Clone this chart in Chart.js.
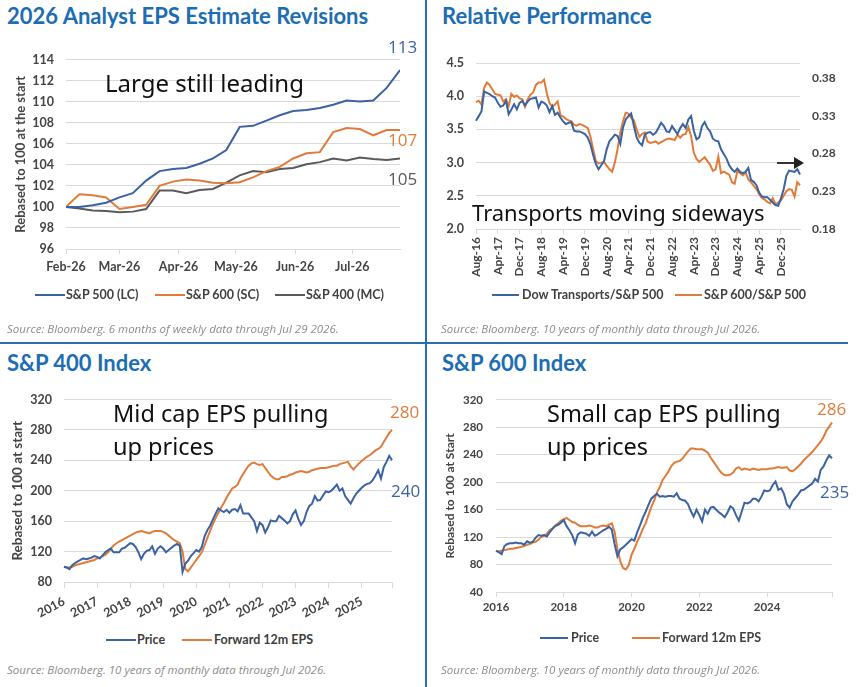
<!DOCTYPE html>
<html>
<head>
<meta charset="utf-8">
<script src="https://cdn.jsdelivr.net/npm/chart.js@4.4.1/dist/chart.umd.min.js"></script>
<style>
  body { margin: 0; width: 860px; height: 687px; position: relative; background: #fff; overflow: hidden; font-family: Lato, sans-serif; }
  .abs { position: absolute; white-space: nowrap; }
  .title { font-family: Lato, sans-serif; font-weight: 700; font-size: 22px; line-height: 26px; color: #1c6db3; }
  .src { font-family: "Open Sans", sans-serif; font-style: italic; font-size: 11.5px; line-height: 14px; color: #8c8c8c; }
  .note { font-family: "Noto Sans", sans-serif; font-size: 23.5px; line-height: 32px; color: #111; }
  .lg { font-size: 12.5px; line-height: 16px; color: #404040; font-weight: 700; }
  .sw { position: absolute; height: 2px; }
  .end { font-family: "Open Sans", sans-serif; font-size: 17px; line-height: 20px; }
  .box { position: absolute; }
  .vline { position: absolute; left: 425px; top: 0; width: 2px; height: 687px; background: #2a6db0; }
  .hline { position: absolute; left: 0; top: 342px; width: 848px; height: 2px; background: #2a6db0; }
</style>
</head>
<body>
<div class="vline"></div>
<div class="hline"></div>

<!-- Panel 1 -->
<div class="abs title" style="left:7px;top:3px">2026 Analyst EPS Estimate Revisions</div>
<div class="box" style="left:0;top:40px"><canvas id="epsChart" width="420" height="250"></canvas></div>
<div class="abs note" style="left:105px;top:67px;font-size:24px">Large still leading</div>
<div class="abs end" style="left:388px;top:37px;color:#3b62a3">113</div>
<div class="abs end" style="left:388px;top:130px;color:#e07b39">107</div>
<div class="abs end" style="left:388px;top:169px;color:#5a5a5a">105</div>
<div class="sw" style="left:35px;top:294px;width:30px;background:#3b62a3"></div>
<div class="abs lg" style="left:66px;top:287px">S&amp;P 500 (LC)</div>
<div class="sw" style="left:155px;top:294px;width:30px;background:#e07b39"></div>
<div class="abs lg" style="left:186px;top:287px">S&amp;P 600 (SC)</div>
<div class="sw" style="left:275px;top:294px;width:30px;background:#5a5a5a"></div>
<div class="abs lg" style="left:306px;top:287px">S&amp;P 400 (MC)</div>
<div class="abs src" style="left:7px;top:322px">Source: Bloomberg. 6 months of weekly data through Jul 29 2026.</div>

<!-- Panel 2 -->
<div class="abs title" style="left:442px;top:3px">Relative Performance</div>
<div class="box" style="left:430px;top:40px"><canvas id="relChart" width="420" height="240"></canvas></div>
<div class="abs note" style="left:472px;top:196px;font-size:22px">Transports moving sideways</div>
<svg class="abs" style="left:775px;top:156px" width="32" height="14">
  <line x1="2" y1="7" x2="20" y2="7" stroke="#333" stroke-width="2"/>
  <polygon points="19,1 29,7 19,13" fill="#222"/>
</svg>
<div class="sw" style="left:492px;top:294px;width:27px;background:#3b62a3"></div>
<div class="abs lg" style="left:522px;top:287px">Dow Transports/S&amp;P 500</div>
<div class="sw" style="left:675px;top:294px;width:27px;background:#e07b39"></div>
<div class="abs lg" style="left:704px;top:287px">S&amp;P 600/S&amp;P 500</div>
<div class="abs src" style="left:441px;top:322px">Source: Bloomberg. 10 years of monthly data through Jul 2026.</div>

<!-- Panel 3 -->
<div class="abs title" style="left:7px;top:350px">S&amp;P 400 Index</div>
<div class="box" style="left:0;top:380px"><canvas id="midChart" width="420" height="240"></canvas></div>
<div class="abs note" style="left:113px;top:397px">Mid cap EPS pulling</div>
<div class="abs note" style="left:113px;top:430px">up prices</div>
<div class="abs end" style="left:390px;top:402px;color:#e07b39">280</div>
<div class="abs end" style="left:391px;top:481px;color:#3b62a3">240</div>
<div class="sw" style="left:106px;top:639px;width:30px;background:#3b62a3"></div>
<div class="abs lg" style="left:137px;top:632px">Price</div>
<div class="sw" style="left:182px;top:639px;width:30px;background:#e07b39"></div>
<div class="abs lg" style="left:214px;top:632px">Forward 12m EPS</div>
<div class="abs src" style="left:7px;top:663px">Source: Bloomberg. 10 years of monthly data through Jul 2026.</div>

<!-- Panel 4 -->
<div class="abs title" style="left:442px;top:350px">S&amp;P 600 Index</div>
<div class="box" style="left:430px;top:380px"><canvas id="smallChart" width="420" height="240"></canvas></div>
<div class="abs note" style="left:547px;top:397px">Small cap EPS pulling</div>
<div class="abs note" style="left:547px;top:430px">up prices</div>
<div class="abs end" style="left:817px;top:399px;color:#e07b39">286</div>
<div class="abs end" style="left:820px;top:482px;color:#3b62a3">235</div>
<div class="sw" style="left:540px;top:637px;width:28px;background:#3b62a3"></div>
<div class="abs lg" style="left:571px;top:630px">Price</div>
<div class="sw" style="left:632px;top:637px;width:28px;background:#e07b39"></div>
<div class="abs lg" style="left:662px;top:630px">Forward 12m EPS</div>
<div class="abs src" style="left:441px;top:663px">Source: Bloomberg. 10 years of monthly data through Jul 2026.</div>

<script>
// Panel 1: weekly EPS revisions (days since Feb 1)
const epsWeekDays = [0, 7, 14, 21, 28, 35, 42, 49, 56, 63, 70, 77, 84, 91, 98, 105, 112, 119, 126, 133, 140, 147, 154, 161, 168, 175];
const epsTickDays = [0, 28, 59, 89, 120, 150];
const epsTickLabels = ["Feb-26", "Mar-26", "Apr-26", "May-26", "Jun-26", "Jul-26"];
const sp500Eps = [100, 100.0, 100.15, 100.4, 100.9, 101.3, 102.5, 103.4, 103.6, 103.7, 104.1, 104.6, 105.4, 107.6, 107.7, 108.2, 108.7, 109.1, 109.2, 109.4, 109.7, 110.1, 110.0, 110.1, 111.3, 113.0];
const sp600Eps = [100, 101.2, 101.1, 100.9, 99.8, 100.0, 100.2, 102.0, 102.4, 102.6, 102.5, 102.3, 102.25, 102.35, 102.8, 103.4, 103.8, 104.6, 105.1, 105.2, 107.1, 107.5, 107.4, 106.8, 107.3, 107.3];
const sp400Eps = [100, 99.85, 99.65, 99.6, 99.5, 99.55, 99.8, 101.55, 101.55, 101.3, 101.6, 101.7, 102.3, 103.0, 103.4, 103.3, 103.6, 103.7, 104.05, 104.25, 104.6, 104.4, 104.7, 104.55, 104.45, 104.6];

// Panel 2: relative performance, monthly Aug-16 .. Jul-26
const transportsRel = [3.63, 3.70, 3.77, 4.07, 4.05, 4.03, 4.00, 3.98, 3.90, 3.84, 3.86, 3.93, 3.73, 3.80, 3.88, 3.80, 3.90, 3.93, 3.86, 3.92,
  3.96, 3.97, 3.98, 3.83, 3.92, 3.90, 3.86, 3.76, 3.85, 3.72, 3.75, 3.68, 3.62, 3.58, 3.60, 3.61, 3.48, 3.47, 3.47, 3.45,
  3.43, 3.38, 3.28, 3.12, 2.98, 2.90, 2.96, 3.02, 3.20, 3.32, 3.37, 3.42, 3.40, 3.28, 3.53, 3.65, 3.70, 3.74, 3.55, 3.38,
  3.30, 3.26, 3.42, 3.45, 3.46, 3.42, 3.45, 3.52, 3.60, 3.55, 3.47, 3.46, 3.55, 3.49, 3.43, 3.52, 3.58, 3.52, 3.65, 3.70,
  3.48, 3.35, 3.38, 3.55, 3.61, 3.52, 3.47, 3.36, 3.33, 3.32, 3.20, 3.13, 3.06, 2.96, 2.90, 2.86, 2.91, 2.86, 2.84, 2.86,
  2.92, 2.74, 2.71, 2.66, 2.55, 2.49, 2.48, 2.48, 2.44, 2.40, 2.36, 2.35, 2.46, 2.60, 2.80, 2.88, 2.87, 2.86, 2.90, 2.82];
const smallRel = [0.348, 0.350, 0.345, 0.367, 0.374, 0.371, 0.365, 0.359, 0.358, 0.357, 0.349, 0.352, 0.343, 0.359, 0.355, 0.357, 0.353, 0.352, 0.342, 0.352,
  0.358, 0.361, 0.371, 0.374, 0.374, 0.378, 0.360, 0.347, 0.342, 0.345, 0.349, 0.331, 0.329, 0.326, 0.324, 0.323, 0.318, 0.317, 0.319, 0.318,
  0.316, 0.314, 0.303, 0.286, 0.270, 0.267, 0.268, 0.269, 0.264, 0.259, 0.256, 0.268, 0.286, 0.308, 0.323, 0.334, 0.333, 0.327, 0.324, 0.312,
  0.302, 0.306, 0.308, 0.296, 0.294, 0.295, 0.296, 0.293, 0.295, 0.297, 0.299, 0.300, 0.299, 0.298, 0.305, 0.301, 0.305, 0.306, 0.315, 0.303,
  0.281, 0.273, 0.269, 0.272, 0.275, 0.270, 0.265, 0.257, 0.259, 0.276, 0.254, 0.256, 0.254, 0.252, 0.242, 0.240, 0.257, 0.254, 0.251, 0.255,
  0.246, 0.242, 0.237, 0.233, 0.226, 0.221, 0.219, 0.216, 0.214, 0.221, 0.213, 0.215, 0.218, 0.224, 0.230, 0.233, 0.232, 0.223, 0.242, 0.238];
const relRightTicks = [0.18, 0.23, 0.28, 0.33, 0.38];

// Panel 3: S&P 400, monthly
const midYearLabels = ["2016", "2017", "2018", "2019", "2020", "2021", "2022", "2023", "2024", "2025"];
const midPrice = [100, 99, 97, 102, 105, 107, 109, 111, 110, 111, 112, 114, 113, 111, 115, 119, 122, 124, 119, 119,
  119, 124, 125, 128, 131, 130, 126, 119, 110, 117, 121, 122, 127, 117, 124, 127, 124, 119, 122, 125,
  128, 130, 128, 93, 104, 108, 114, 118, 122, 120, 126, 140, 148, 154, 162, 170, 177, 174, 172, 175,
  171, 175, 176, 173, 181, 170, 170, 170, 165, 160, 147, 158, 155, 145, 152, 161, 160, 160, 167, 164,
  161, 157, 160, 169, 174, 163, 155, 160, 172, 180, 183, 193, 187, 188, 194, 199, 198, 200, 204, 208,
  200, 203, 193, 188, 183, 190, 196, 200, 204, 207, 209, 210, 214, 220, 227, 216, 231, 238, 246, 240];
const midEps = [100, 99, 99, 100, 102, 103, 104, 105, 106, 107, 108, 109, 111, 112, 114, 116, 119, 124, 128, 131,
  133, 135, 137, 139, 141, 143, 145, 146, 147, 146, 145, 144, 146, 147, 147, 147, 146, 144, 141, 138,
  135, 133, 131, 120, 97, 94, 99, 104, 109, 114, 119, 128, 138, 147, 156, 164, 171, 178, 184, 191,
  197, 203, 205, 208, 216, 222, 228, 233, 236, 237, 235, 234, 235, 230, 225, 220, 217, 215, 215, 218,
  218, 219, 221, 222, 224, 225, 226, 225, 224, 225, 227, 228, 229, 230, 230, 230, 231, 232, 233, 233,
  235, 236, 237, 238, 232, 228, 232, 236, 239, 242, 245, 247, 250, 253, 255, 258, 264, 270, 276, 280];

// Panel 4: S&P 600, monthly
const smallYearLabels = ["2016", "2018", "2020", "2022", "2024"];
const smallPrice = [100, 98, 95, 107, 110, 111, 111, 112, 111, 111, 109, 114, 112, 113, 119, 123, 122, 123, 121, 127,
  132, 136, 138, 141, 145, 136, 130, 123, 111, 124, 127, 126, 125, 122, 128, 122, 124, 127, 130, 132,
  135, 131, 110, 92, 102, 105, 109, 113, 117, 115, 127, 137, 148, 157, 167, 176, 180, 183, 179, 180,
  179, 180, 180, 179, 184, 176, 174, 173, 168, 158, 150, 160, 152, 143, 160, 154, 163, 164, 160, 156,
  153, 149, 156, 165, 162, 152, 144, 157, 170, 169, 171, 176, 176, 172, 179, 188, 187, 188, 196, 201,
  189, 191, 183, 168, 163, 172, 177, 182, 188, 189, 192, 195, 198, 205, 201, 218, 223, 232, 239, 235];
const smallEps = [100, 99, 100, 101, 102, 103, 103, 104, 105, 106, 107, 109, 110, 112, 113, 116, 120, 122, 125, 130,
  133, 137, 140, 144, 146, 148, 145, 142, 141, 138, 136, 136, 136, 137, 136, 134, 134, 136, 137, 136,
  138, 140, 128, 103, 85, 75, 73, 79, 94, 103, 113, 122, 132, 140, 152, 164, 173, 185, 193, 203,
  209, 215, 223, 228, 230, 231, 234, 240, 245, 249, 249, 248, 248, 248, 246, 243, 236, 230, 224, 218,
  213, 210, 210, 211, 214, 220, 222, 218, 220, 219, 218, 220, 219, 218, 219, 219, 219, 220, 220, 221,
  222, 221, 221, 222, 217, 216, 219, 223, 227, 232, 236, 240, 244, 249, 254, 259, 266, 275, 281, 287];

const BLUE = "#3b62a3";
const ORANGE = "#e07b39";
const GRAY = "#5a5a5a";
const GRID = "#d9d9d9";
const TICK_COLOR = "#444444";

Chart.defaults.font.family = 'Lato, sans-serif';
Chart.defaults.font.weight = 700;
Chart.defaults.color = TICK_COLOR;
Chart.defaults.animation = false;

function monthLabels(year, month, count) {
  const names = ["Jan","Feb","Mar","Apr","May","Jun","Jul","Aug","Sep","Oct","Nov","Dec"];
  const out = [];
  for (let i = 0; i < count; i++) {
    const m = (month + i) % 12;
    const y = year + Math.floor((month + i) / 12);
    out.push(names[m] + "-" + String(y).slice(2));
  }
  return out;
}

function lineSet(label, data, color, axis) {
  return {
    label: label,
    data: data,
    borderColor: color,
    backgroundColor: color,
    borderWidth: 2,
    pointRadius: 0,
    tension: 0,
    yAxisID: axis || "y"
  };
}

const noLegend = { legend: { display: false }, tooltip: { enabled: false } };

// Chart 1
new Chart(document.getElementById("epsChart"), {
  type: "line",
  data: {
    datasets: [
      lineSet("S&P 500 (LC)", epsWeekDays.map((d, i) => ({ x: d, y: sp500Eps[i] })), BLUE),
      lineSet("S&P 600 (SC)", epsWeekDays.map((d, i) => ({ x: d, y: sp600Eps[i] })), ORANGE),
      lineSet("S&P 400 (MC)", epsWeekDays.map((d, i) => ({ x: d, y: sp400Eps[i] })), GRAY)
    ]
  },
  options: {
    responsive: false,
    layout: { padding: { left: 0, top: 13, right: 20, bottom: 0 } },
    plugins: noLegend,
    scales: {
      x: {
        type: "linear", min: 0, max: 175,
        afterBuildTicks: (axis) => { axis.ticks = epsTickDays.map(v => ({ value: v })); },
        afterFit: (s) => { s.height = 41; },
        grid: { drawOnChartArea: false, color: GRID, tickLength: 5 },
        border: { color: GRID },
        ticks: {
          maxRotation: 0, padding: 5, font: { size: 12.5 },
          callback: (v) => epsTickLabels[epsTickDays.indexOf(v)]
        }
      },
      y: {
        min: 96, max: 114,
        afterFit: (s) => { s.width = 66; },
        grid: { color: GRID, drawTicks: false },
        border: { display: false },
        ticks: { stepSize: 2, padding: 12, font: { size: 12.5 } },
        title: { display: true, text: "Rebased to 100 at the start", font: { size: 13 }, padding: { top: 13, bottom: 0 } }
      }
    }
  }
});

// Chart 2
const relMonths = monthLabels(2016, 7, transportsRel.length);
new Chart(document.getElementById("relChart"), {
  type: "line",
  data: {
    labels: relMonths,
    datasets: [
      lineSet("Dow Transports/S&P 500", transportsRel, BLUE, "y"),
      lineSet("S&P 600/S&P 500", smallRel, ORANGE, "y1")
    ]
  },
  options: {
    responsive: false,
    layout: { padding: { left: 0, top: 23, right: 0, bottom: 0 } },
    plugins: noLegend,
    scales: {
      x: {
        afterBuildTicks: (axis) => { axis.ticks = axis.ticks.filter((t, i) => i % 8 === 0); },
        afterFit: (s) => { s.height = 51; },
        grid: { drawOnChartArea: false, color: GRID, tickLength: 5 },
        border: { color: GRID },
        ticks: { autoSkip: false, minRotation: 90, maxRotation: 90, padding: 3, font: { size: 12 } }
      },
      y: {
        min: 2, max: 4.5,
        afterFit: (s) => { s.width = 46; },
        grid: { color: GRID, drawTicks: false },
        border: { display: false },
        ticks: { stepSize: 0.5, padding: 12, font: { size: 12.5 }, callback: (v) => v.toFixed(1) }
      },
      y1: {
        position: "right", min: 0.18, max: 0.40,
        afterBuildTicks: (axis) => { axis.ticks = relRightTicks.map(v => ({ value: v })); },
        afterFit: (s) => { s.width = 50; },
        grid: { display: false, drawTicks: false },
        border: { display: false },
        ticks: { padding: 12, font: { size: 12 }, callback: (v) => v.toFixed(2) }
      }
    }
  }
});

// Chart 3
const midMonths = monthLabels(2016, 0, midPrice.length);
new Chart(document.getElementById("midChart"), {
  type: "line",
  data: {
    labels: midMonths,
    datasets: [
      lineSet("Price", midPrice, BLUE),
      lineSet("Forward 12m EPS", midEps, ORANGE)
    ]
  },
  options: {
    responsive: false,
    layout: { padding: { left: 0, top: 17, right: 28, bottom: 0 } },
    plugins: noLegend,
    scales: {
      x: {
        afterBuildTicks: (axis) => {
          const last = axis.ticks.length - 1;
          axis.ticks = axis.ticks.filter((t, i) => i % 12 === 0 || i === last);
        },
        afterFit: (s) => { s.height = 38; },
        grid: { drawOnChartArea: false, color: GRID, tickLength: 6 },
        border: { color: GRID },
        ticks: {
          autoSkip: false, minRotation: 28, maxRotation: 28, padding: 6, font: { size: 12.5 },
          callback: (v) => (v % 12 === 0 ? midYearLabels[v / 12] : "")
        }
      },
      y: {
        min: 80, max: 320,
        afterFit: (s) => { s.width = 64; },
        grid: { color: GRID, drawTicks: false },
        border: { display: false },
        ticks: { stepSize: 40, padding: 12, font: { size: 12.5 } },
        title: { display: true, text: "Rebased to 100 at start", font: { size: 13.5 }, padding: { top: 10, bottom: 0 } }
      }
    }
  }
});

// Chart 4
const smallMonths = monthLabels(2016, 0, smallPrice.length);
new Chart(document.getElementById("smallChart"), {
  type: "line",
  data: {
    labels: smallMonths,
    datasets: [
      lineSet("Price", smallPrice, BLUE),
      lineSet("Forward 12m EPS", smallEps, ORANGE)
    ]
  },
  options: {
    responsive: false,
    layout: { padding: { left: 0, top: 19, right: 18, bottom: 0 } },
    plugins: noLegend,
    scales: {
      x: {
        afterBuildTicks: (axis) => {
          const last = axis.ticks.length - 1;
          axis.ticks = axis.ticks.filter((t, i) => i % 24 === 0 || i === last);
        },
        afterFit: (s) => { s.height = 28; },
        grid: { drawOnChartArea: false, color: GRID, tickLength: 5 },
        border: { color: GRID },
        ticks: {
          autoSkip: false, maxRotation: 0, padding: 3, font: { size: 11.5 },
          callback: (v) => (v % 24 === 0 ? smallYearLabels[v / 24] : "")
        }
      },
      y: {
        min: 40, max: 320,
        afterFit: (s) => { s.width = 66; },
        grid: { color: GRID, drawTicks: false },
        border: { display: false },
        ticks: { stepSize: 40, padding: 13, font: { size: 11.5 } },
        title: { display: true, text: "Rebased to 100 at Start", font: { size: 12 }, padding: { top: 13, bottom: 0 } }
      }
    }
  }
});
</script>
</body>
</html>
